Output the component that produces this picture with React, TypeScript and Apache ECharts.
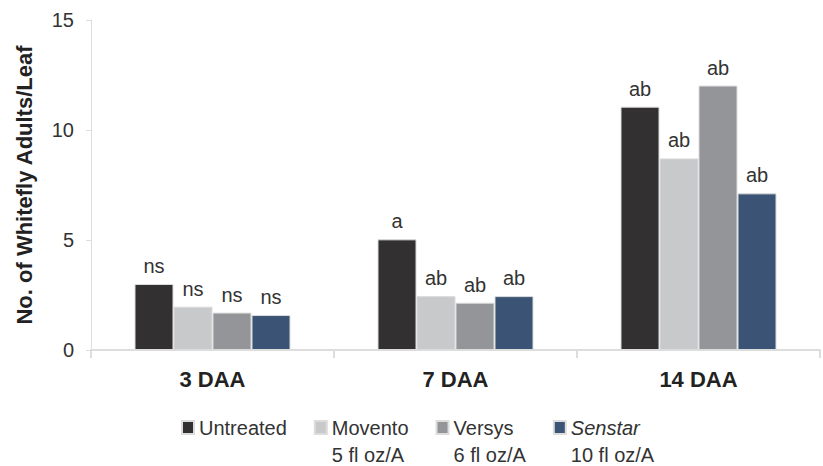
import React, { useEffect, useRef } from "react";
import * as echarts from "echarts";

const categories = ["3 DAA", "7 DAA", "14 DAA"];
const seriesNames = ["Untreated", "Movento", "Versys", "Senstar"];
const untreated = [3.0, 5.03, 11.06];
const movento = [1.97, 2.45, 8.71];
const versys = [1.7, 2.15, 12.02];
const senstar = [1.59, 2.45, 7.12];
const untreatedLabels = ["ns", "a", "ab"];
const moventoLabels = ["ns", "ab", "ab"];
const versysLabels = ["ns", "ab", "ab"];
const senstarLabels = ["ns", "ab", "ab"];
const rates = ["", "5 fl oz/A", "6 fl oz/A", "10 fl oz/A"];
const colors = ["#323031", "#c8c9cb", "#939598", "#3b5475"];
const yTicks = [0, 5, 10, 15];

const FONT = "Liberation Sans, Arial, sans-serif";
const LH = 27;

export default function App() {
  const ref = useRef<HTMLDivElement>(null);
  useEffect(() => {
    if (!ref.current) return;
    const chart = echarts.init(ref.current, undefined, { renderer: "svg" });
    const values = [untreated, movento, versys, senstar];
    const labels = [untreatedLabels, moventoLabels, versysLabels, senstarLabels];
    const richStyles = {
      it: { fontStyle: "italic", fontFamily: FONT, fontSize: 20, color: "#333333", lineHeight: LH },
      n: { fontFamily: FONT, fontSize: 20, color: "#333333", lineHeight: LH },
    };
    chart.setOption({
      animation: false,
      textStyle: { fontFamily: FONT },
      grid: { left: 91, right: 3, top: 20, bottom: 116, containLabel: false },
      legend: {
        left: 176,
        top: 382,
        itemWidth: 12,
        itemHeight: 13,
        itemGap: 27,
        icon: "rect",
        textStyle: { fontFamily: FONT, fontSize: 20, color: "#333333", lineHeight: LH, rich: richStyles },
        data: seriesNames.map((n, i) =>
          i === 0
            ? { name: n, textStyle: { padding: [LH, 0, LH, 0] } }
            : { name: n, textStyle: { padding: [LH, 0, 0, 0] } }
        ),
        formatter: (name: string) => {
          const i = seriesNames.indexOf(name);
          if (i === 0) return "{n|" + name + "}";
          if (name === "Senstar") return "{it|" + name + "}\n{n|" + rates[i] + "}";
          return "{n|" + name + "}\n{n|" + rates[i] + "}";
        },
      },
      xAxis: {
        type: "category",
        data: categories,
        axisLine: { show: true, lineStyle: { color: "#dddddd", width: 2 } },
        axisTick: { show: true, length: 8, lineStyle: { color: "#dddddd", width: 2 } },
        axisLabel: {
          fontFamily: FONT,
          fontSize: 22,
          fontWeight: "bold",
          color: "#222222",
          margin: 18,
        },
      },
      yAxis: {
        type: "value",
        min: 0,
        max: 15,
        interval: 5,
        name: "No. of Whitefly Adults/Leaf",
        nameLocation: "middle",
        nameGap: 56,
        nameRotate: 90,
        nameTextStyle: { fontFamily: FONT, fontSize: 22, fontWeight: "bold", color: "#222222" },
        axisLine: { show: true, lineStyle: { color: "#dddddd", width: 1 } },
        axisTick: { show: true, length: 5, lineStyle: { color: "#dddddd" } },
        splitLine: { show: false },
        axisLabel: {
          fontFamily: FONT,
          fontSize: 20,
          color: "#333333",
          margin: 17,
          formatter: (v: number) => (yTicks.includes(v) ? String(v) : ""),
        },
      },
      series: seriesNames.map((n, i) => ({
        name: n,
        type: "bar",
        data: values[i],
        barWidth: 39,
        barGap: "0%",
        itemStyle: { color: colors[i], borderColor: "#dcdcdc", borderWidth: 1 },
        label: {
          show: true,
          position: "top",
          distance: 8,
          fontFamily: FONT,
          fontSize: 20,
          color: "#333333",
          formatter: (p: any) => labels[i][p.dataIndex],
        },
      })),
    });
    return () => chart.dispose();
  }, []);
  return (
    <div
      ref={ref}
      style={{ position: "absolute", left: 0, top: 0, width: 823, height: 466, overflow: "hidden" }}
    />
  );
}
